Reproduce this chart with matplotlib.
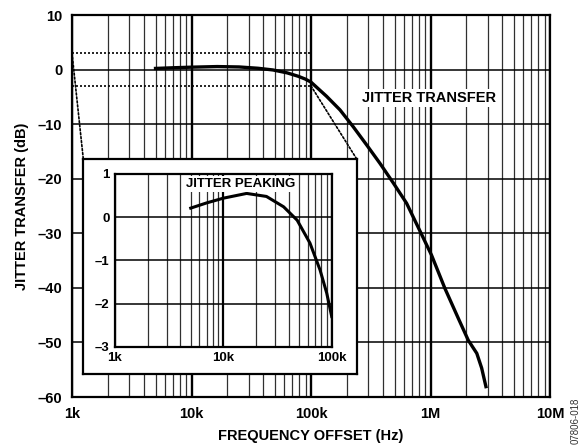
import matplotlib
matplotlib.use("Agg")
import matplotlib.pyplot as plt
from matplotlib.patches import ConnectionPatch
from matplotlib.ticker import LogLocator, NullFormatter

plt.rcParams['font.family'] = ['Liberation Sans', 'DejaVu Sans']
plt.rcParams['font.weight'] = 'bold'

# jitter transfer curve (Hz, dB)
freq_hz = [5e3, 7e3, 1e4, 1.64e4, 2.5e4, 3.6e4, 4.8e4, 6.3e4, 7.8e4, 9e4, 1e5,
           1.35e5, 1.75e5, 2.26e5, 2.92e5, 3.78e5, 4.89e5, 6.31e5, 8.17e5,
           1.02e6, 1.32e6, 1.71e6, 2.07e6, 2.44e6, 2.68e6, 2.91e6]
jitter_db = [0.21, 0.33, 0.44, 0.55, 0.48, 0.24, -0.07, -0.6, -1.22, -1.76, -2.3,
             -4.9, -7.4, -10.5, -13.8, -17.2, -20.8, -24.5, -29.6,
             -34.0, -40.1, -45.6, -49.6, -52.0, -54.7, -58.1]

main_xticks = [1e3, 1e4, 1e5, 1e6, 1e7]
main_xlabels = ['1k', '10k', '100k', '1M', '10M']
main_yticks = [10, 0, -10, -20, -30, -40, -50, -60]
inset_xticks = [1e3, 1e4, 1e5]
inset_xlabels = ['1k', '10k', '100k']
inset_yticks = [1, 0, -1, -2, -3]

W, H = 587, 447
fig = plt.figure(figsize=(W / 100, H / 100), dpi=100)


def px_rect(x0, y0, x1, y1):
    # pixel box (top-left origin) -> figure fraction rect
    return [x0 / W, 1 - y1 / H, (x1 - x0) / W, (y1 - y0) / H]


def style_log_grid(a, major_lw, minor_lw, h_lw):
    a.set_xscale('log')
    a.xaxis.set_minor_locator(LogLocator(base=10, subs=range(2, 10), numticks=20))
    a.xaxis.set_minor_formatter(NullFormatter())
    a.grid(which='minor', axis='x', color='#303030', lw=minor_lw)
    a.grid(which='major', axis='x', color='black', lw=major_lw)
    a.grid(which='major', axis='y', color='black', lw=h_lw)
    a.tick_params(which='both', length=0)
    a.set_axisbelow(True)
    for s in a.spines.values():
        s.set_linewidth(1.6)


# main plot
ax = fig.add_axes(px_rect(72, 15, 550, 397))
style_log_grid(ax, 1.7, 0.9, 1.1)
ax.set_xlim(1e3, 1e7)
ax.set_ylim(-60, 10)
ax.set_xticks(main_xticks)
ax.set_xticklabels(main_xlabels)
ax.set_yticks(main_yticks)
ax.set_yticklabels([str(v).replace('-', '\u2013') for v in main_yticks])
ax.tick_params(labelsize=10.5, pad=7)
ax.plot(freq_hz, jitter_db, color='black', lw=2.4, solid_joinstyle='round', zorder=3)
ax.set_xlabel('FREQUENCY OFFSET (Hz)', fontsize=10.5, fontweight='bold', labelpad=6)
ax.set_ylabel('JITTER TRANSFER (dB)', fontsize=10.5, fontweight='bold', labelpad=6)
ax.text(9.7e5, -5.2, 'JITTER TRANSFER', fontsize=10.5, fontweight='bold',
        ha='center', va='center', zorder=4,
        bbox=dict(facecolor='white', edgecolor='none', pad=1.5))

# dotted zoom region (1k-100k, -3..+3 dB)
dot = dict(color='black', lw=1.2, linestyle=(0, (1.2, 1.2)), zorder=4)
ax.plot([1e3, 1e5], [3, 3], **dot)
ax.plot([1e3, 1e5], [-3, -3], **dot)
ax.plot([1e5, 1e5], [3, -3], **dot)

# white frame holding the inset
box = fig.add_axes(px_rect(83.3, 159, 356.7, 374.3))
box.set_xticks([])
box.set_yticks([])
for s in box.spines.values():
    s.set_linewidth(1.6)

for xy_main, xy_box in [((1e3, 3), (0, 1)), ((1e5, -3), (1, 1))]:
    con = ConnectionPatch(xyA=xy_main, coordsA=ax.transData,
                          xyB=xy_box, coordsB=box.transAxes,
                          color='black', lw=1.2, linestyle=(0, (1.2, 1.2)))
    fig.add_artist(con)

# inset: jitter peaking
ins = fig.add_axes(px_rect(115, 174, 331.7, 346.7))
style_log_grid(ins, 1.6, 0.9, 1.1)
ins.set_xlim(1e3, 1e5)
ins.set_ylim(-3, 1)
ins.set_xticks(inset_xticks)
ins.set_xticklabels(inset_xlabels)
ins.set_yticks(inset_yticks)
ins.set_yticklabels([str(v).replace('-', '\u2013') for v in inset_yticks])
ins.tick_params(labelsize=9.5, pad=4)
pk_f = [f for f in freq_hz if f <= 1e5]
pk_db = jitter_db[:len(pk_f)]
ins.plot(pk_f, pk_db, color='black', lw=2.2, solid_joinstyle='round', zorder=3)
ins.text(1.45e4, 0.76, 'JITTER PEAKING', fontsize=9.5, fontweight='bold',
         ha='center', va='center', zorder=5,
         bbox=dict(facecolor='white', edgecolor='none', pad=1.5))

fig.text(576 / W, 1 - 421 / H, '07806-018', rotation=90, fontsize=7,
         fontweight='normal', color='#333333', ha='center', va='center')

fig.savefig('out.png', dpi=100)
